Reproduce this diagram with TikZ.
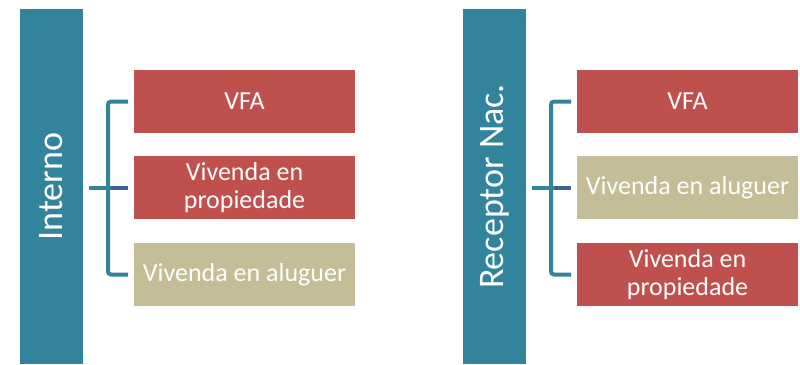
\documentclass[tikz,border=0pt]{standalone}
\usepackage{fontspec}
\setmainfont{Carlito}
\usetikzlibrary{positioning}
\definecolor{barteal}{HTML}{31849B}
\definecolor{boxred}{HTML}{C0504D}
\definecolor{boxtan}{HTML}{C4BD97}
\definecolor{stubblue}{HTML}{3F6396}

\begin{document}
\begin{tikzpicture}[x=1pt,y=-1pt]
      \tikzset{catbar/.style={fill=barteal,
          minimum width=63pt,
          minimum height=355pt,
          inner sep=0pt,
          outer sep=0pt},
        cattext/.style={rotate=90, text=white, font=\fontsize{36}{40}\selectfont},
        itembox/.style={fill=#1, minimum width=221pt, minimum height=63pt,
          inner sep=0pt, outer sep=0pt, text=white, align=center,
          font=\fontsize{26}{28}\selectfont},
        bracket/.style={draw=barteal, line width=4pt, rounded corners=3pt}
      }
      \useasboundingbox (0,0) rectangle (800,364);

      % left group
      \node [catbar] (int) at (51.5,186.5) {};
      \node [cattext] (intlabel) at (int) {Interno};
      \node [itembox=boxred] (ivfa) at (244.5,101.5) {VFA};
      \node [itembox=boxred, below=23pt of ivfa] (iprop) {Vivenda en\\propiedade};
      \node [itembox=boxtan, below=24pt of iprop] (ialug) {Vivenda en aluguer};

      \draw [bracket] ([xshift=-6pt]ivfa.west) -| ([xshift=-26pt]ialug.west) -- ([xshift=-6pt]ialug.west);
      \draw [bracket, rounded corners=0pt] ([xshift=6pt]int.east |- iprop.west) -- ([xshift=-23pt]iprop.west);
      \draw [bracket, draw=stubblue, rounded corners=0pt] ([xshift=-23pt]iprop.west) -- ([xshift=-6pt]iprop.west);

      % right group
      \node [catbar] (rec) at (494.5,186.5) {};
      \node [cattext] (reclabel) at (rec) {Receptor Nac.};
      \node [itembox=boxred] (rvfa) at (687.5,101.5) {VFA};
      \node [itembox=boxtan, below=23pt of rvfa] (ralug) {Vivenda en aluguer};
      \node [itembox=boxred, below=24pt of ralug] (rprop) {Vivenda en\\propiedade};

      \draw [bracket] ([xshift=-6pt]rvfa.west) -| ([xshift=-26pt]rprop.west) -- ([xshift=-6pt]rprop.west);
      \draw [bracket, rounded corners=0pt] ([xshift=6pt]rec.east |- ralug.west) -- ([xshift=-23pt]ralug.west);
      \draw [bracket, draw=stubblue, rounded corners=0pt] ([xshift=-23pt]ralug.west) -- ([xshift=-6pt]ralug.west);
\end{tikzpicture}
\end{document}
